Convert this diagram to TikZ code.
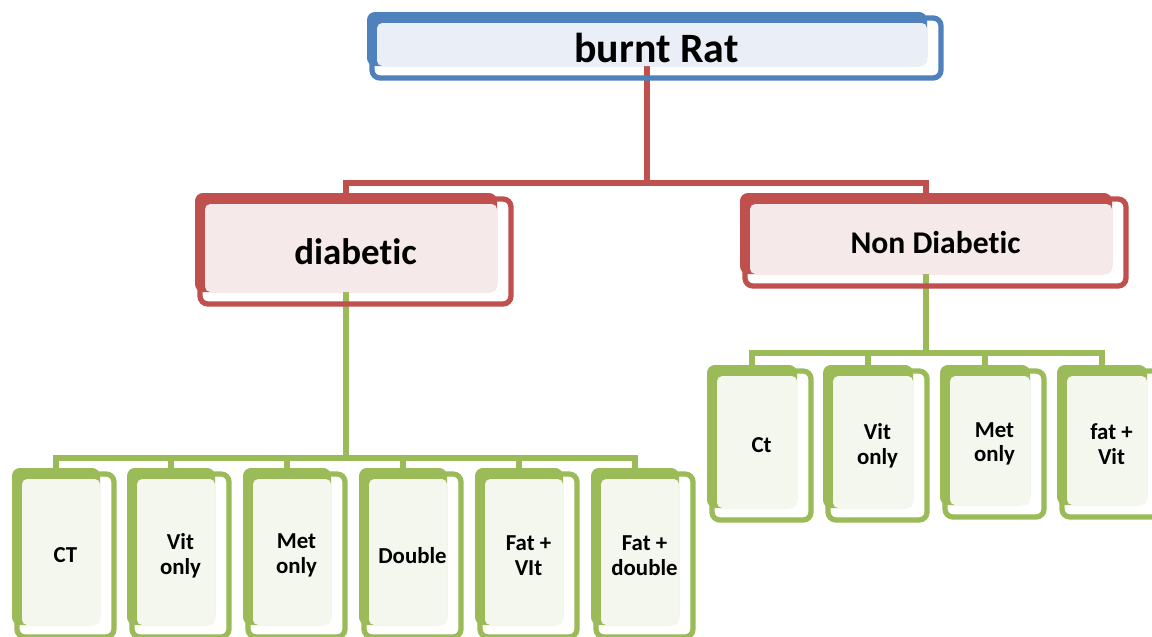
\documentclass[tikz,border=0pt]{standalone}
\usepackage{fontspec}
\setmainfont{Carlito}[Ligatures={NoCommon}]
\usetikzlibrary{fit,backgrounds}
\definecolor{bl}{HTML}{4F81BD}
\definecolor{blf}{HTML}{EAEFF7}
\definecolor{rd}{HTML}{C0504D}
\definecolor{rdf}{HTML}{F6E9E9}
\definecolor{gr}{HTML}{9BBB59}
\definecolor{grf}{HTML}{F4F7EE}
\newcommand{\twinbox}[9]{%
  \node[fit={(#2,#3) (#4,#5)}, inner sep=0pt, fill=#6, rounded corners=4.5pt] (#1b) {};
  \fill[#7, rounded corners=3pt] ({#2+10},{#3+11}) rectangle (#4,#5);
  \node[fit={({#2+5},{#3+6}) ({#4+14},{#5+12})}, inner sep=0pt, draw=#6, line width=3pt, rounded corners=4.5pt] (#1) {};
  \node[font=#8, align=center, inner sep=0pt] (#1t) at (#1.center) {#9};
}
\tikzset{
  redc/.style={draw=rd, line width=2.9pt},
  grc/.style={draw=gr, line width=2.9pt},
}
\begin{document}
\begin{tikzpicture}[x=0.02cm,y=-0.02cm]
\useasboundingbox (0,0) rectangle (1152,636);
\clip (0,0) rectangle (1152,636);
% top
\twinbox{top}{367}{12}{927}{66}{bl}{blf}{\bfseries\fontsize{23.8}{26}\selectfont}{burnt Rat}
% level 2
\twinbox{dia}{195}{193}{497}{292}{rd}{rdf}{\bfseries\fontsize{21}{24}\selectfont}{diabetic}
\twinbox{ndia}{740}{193}{1112}{274}{rd}{rdf}{\bfseries\fontsize{18}{21}\selectfont}{Non Diabetic}
% diabetic leaves
\def\lf{\bfseries\fontsize{13}{14}\selectfont}
\twinbox{d1}{12}{468}{100}{625}{gr}{grf}{\lf}{CT}
\twinbox{d2}{127}{468}{215}{625}{gr}{grf}{\lf}{Vit\\only}
\twinbox{d3}{243}{468}{331}{625}{gr}{grf}{\lf}{Met\\only}
\twinbox{d4}{359}{468}{447}{625}{gr}{grf}{\lf}{Double}
\twinbox{d5}{475}{468}{563}{625}{gr}{grf}{\lf}{Fat +\\VIt}
\twinbox{d6}{591}{468}{679}{625}{gr}{grf}{\lf}{Fat +\\double}
% non diabetic leaves
\twinbox{n1}{707}{365}{797}{508}{gr}{grf}{\lf}{Ct}
\twinbox{n2}{823}{365}{913}{508}{gr}{grf}{\lf}{Vit\\only}
\twinbox{n3}{940}{365}{1030}{505}{gr}{grf}{\lf}{Met\\only}
\twinbox{n4}{1057}{365}{1147}{505}{gr}{grf}{\lf}{fat +\\Vit}
% connectors
\begin{pgfonlayer}{background}
\fill[white] (0,0) rectangle (1152,636);
\coordinate (busR) at (0,183);
\coordinate (busD) at (0,458);
\coordinate (busN) at (0,353);
\draw[redc] (topb.south) -- (topb.south |- busR) -| (diab.north);
\draw[redc] (topb.south |- busR) -| (ndiab.north);
\draw[grc] (diab.south) -- (diab.south |- busD) -| (d1b.north);
\foreach \k in {2,...,6}{\draw[grc] (diab.south |- busD) -| (d\k b.north);}
\draw[grc] (ndiab.south) -- (ndiab.south |- busN) -| (n1b.north);
\foreach \k in {2,...,4}{\draw[grc] (ndiab.south |- busN) -| (n\k b.north);}
\end{pgfonlayer}
\end{tikzpicture}
\end{document}
